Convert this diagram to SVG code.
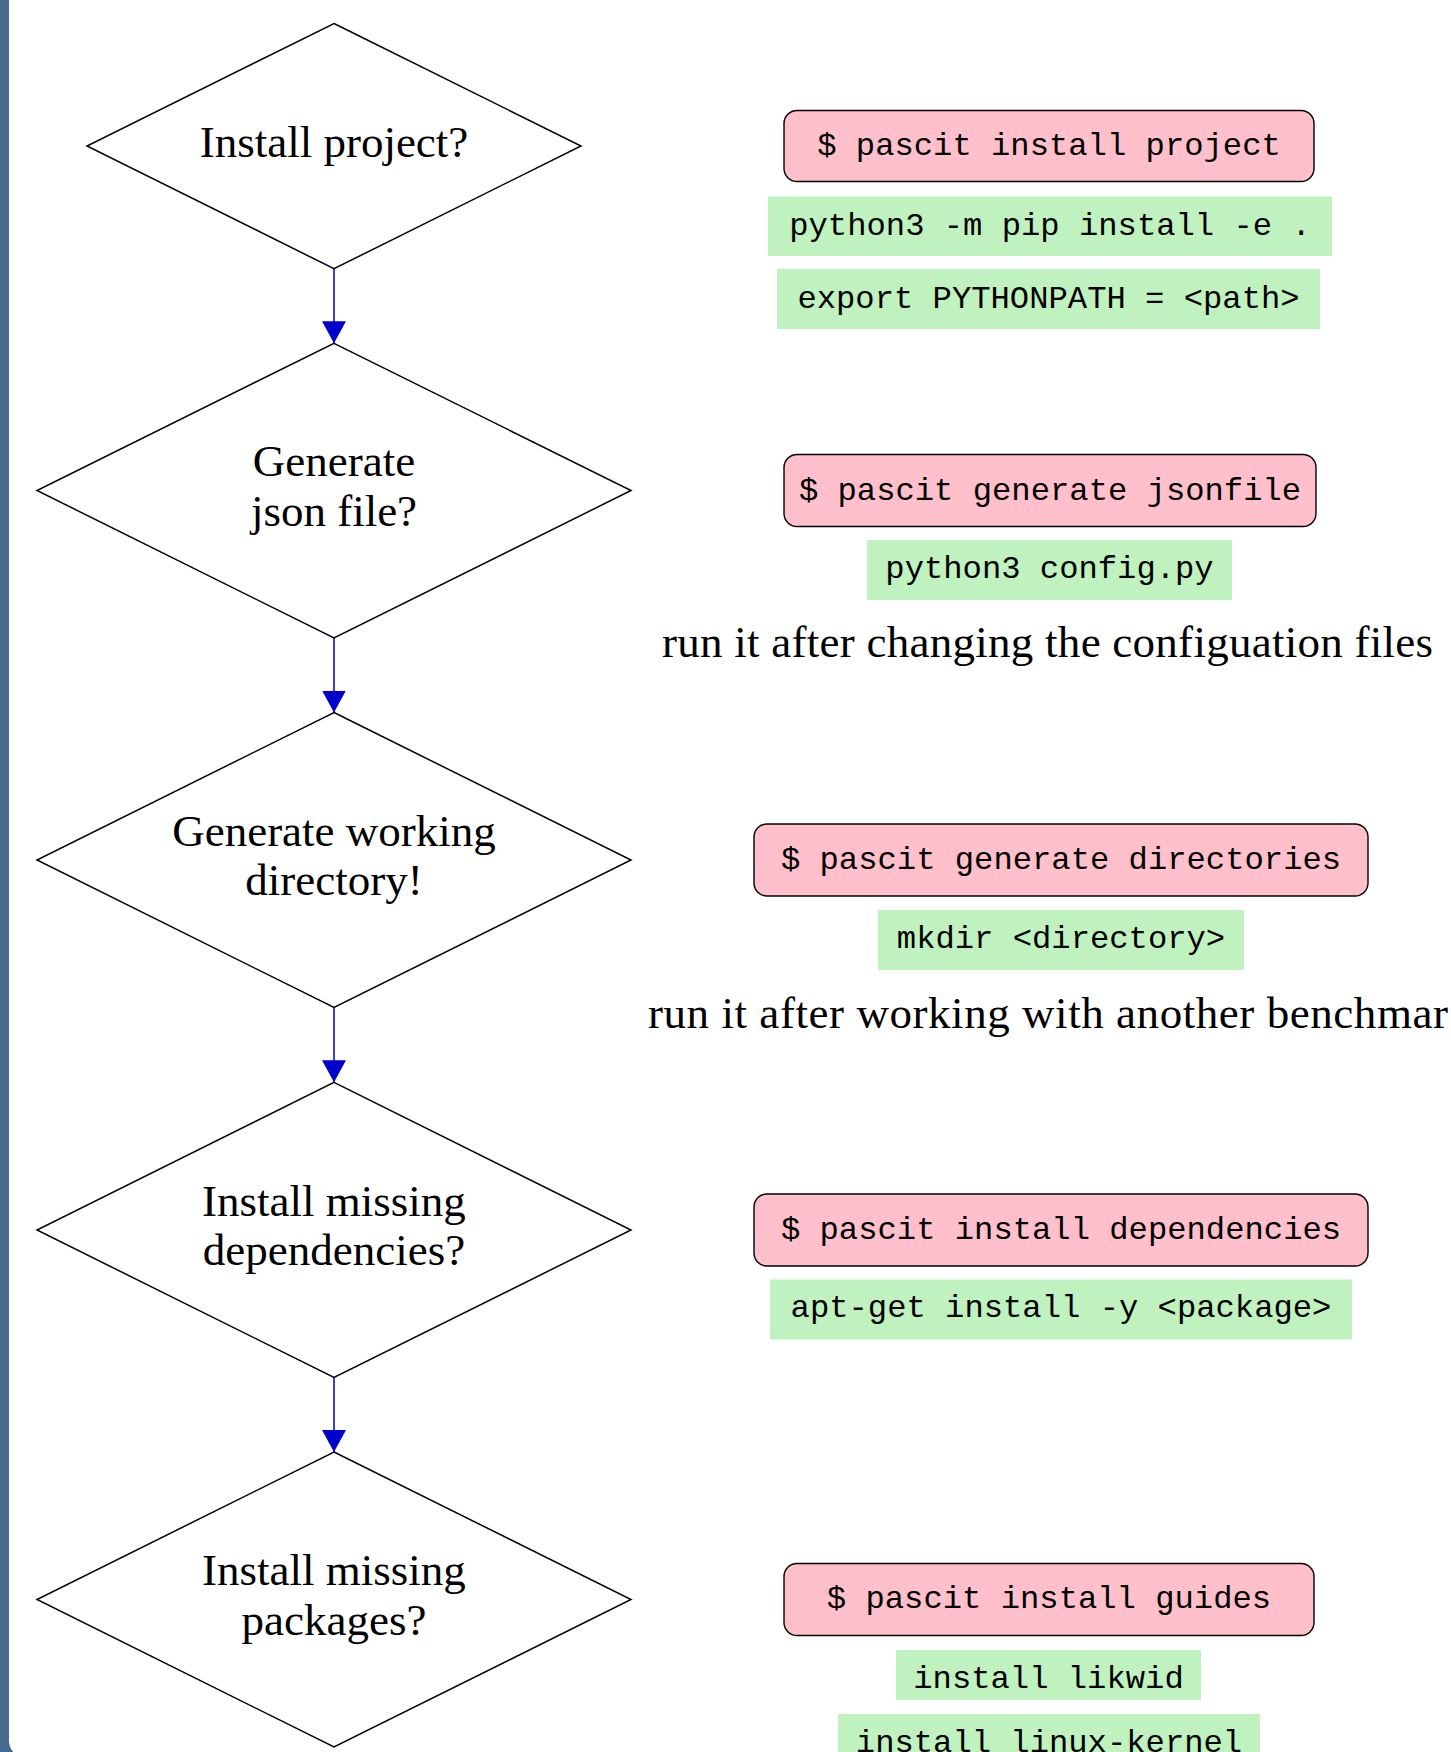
<svg xmlns="http://www.w3.org/2000/svg" width="1451" height="1752" viewBox="0 0 1451 1752">
  <defs>
    <style>
      .dia { fill: #ffffff; stroke: #000000; stroke-width: 1.5; stroke-linejoin: miter; }
      .dtxt { font-family: "Liberation Serif", "Times New Roman", serif; font-size: 45px; fill: #000000; text-anchor: middle; }
      .note { font-family: "Liberation Serif", "Times New Roman", serif; font-size: 45px; fill: #000000; }
      .cmd { fill: #ffc0cb; stroke: #000000; stroke-width: 1.4; }
      .code { fill: #c0f2c0; stroke: none; }
      .mono { font-family: "Liberation Mono", "Courier New", monospace; font-size: 32.2px; fill: #000000; text-anchor: middle; }
      .conn { stroke: #0000cc; stroke-width: 1.5; fill: none; }
    </style>
    <marker id="arrow" markerUnits="userSpaceOnUse" markerWidth="24" markerHeight="24" refX="22" refY="12" orient="auto" viewBox="0 0 24 24">
      <path d="M0,0 L22,12 L0,24 z" fill="#0000cc"/>
    </marker>
  </defs>

  <g id="frame">
    <rect x="0" y="0" width="1451" height="1752" fill="#466a8e"/>
    <rect x="9" y="-30" width="1470" height="1787" rx="16" ry="16" fill="#ffffff"/>
  </g>

  <g id="connectors">
    <line class="conn" x1="334" y1="268.7" x2="334" y2="343.3" marker-end="url(#arrow)"/>
    <line class="conn" x1="334" y1="638" x2="334" y2="712.5" marker-end="url(#arrow)"/>
    <line class="conn" x1="334" y1="1007.5" x2="334" y2="1082.3" marker-end="url(#arrow)"/>
    <line class="conn" x1="334" y1="1377.5" x2="334" y2="1452" marker-end="url(#arrow)"/>
  </g>

  <g id="q-install-project">
    <polygon class="dia" points="334,23.5 581,146 334,268.7 87,146"/>
    <text class="dtxt" x="334" y="157">Install project?</text>
  </g>
  <g id="q-generate-json">
    <polygon class="dia" points="334,343.3 631,490.5 334,638 37,490.5"/>
    <text class="dtxt" x="334" y="476">Generate</text>
    <text class="dtxt" x="334" y="525.5">json file?</text>
  </g>
  <g id="q-generate-dir">
    <polygon class="dia" points="334,712.5 631,860 334,1007.5 37,860"/>
    <text class="dtxt" x="334" y="845.5">Generate working</text>
    <text class="dtxt" x="334" y="895">directory!</text>
  </g>
  <g id="q-install-deps">
    <polygon class="dia" points="334,1082.3 631,1230 334,1377.5 37,1230"/>
    <text class="dtxt" x="334" y="1215.5">Install missing</text>
    <text class="dtxt" x="334" y="1265">dependencies?</text>
  </g>
  <g id="q-install-packages">
    <polygon class="dia" points="334,1452 631,1599.5 334,1747 37,1599.5"/>
    <text class="dtxt" x="334" y="1584.5">Install missing</text>
    <text class="dtxt" x="334" y="1634.5">packages?</text>
  </g>

  <g id="cmd-install-project">
    <rect class="cmd" x="784" y="110.5" width="530" height="71" rx="13" ry="13"/>
    <text class="mono" x="1049" y="155">$ pascit install project</text>
  </g>
  <g id="code-pip-install">
    <rect class="code" x="768" y="196.5" width="564" height="59.5"/>
    <text class="mono" x="1050" y="234.5">python3 -m pip install -e .</text>
  </g>
  <g id="code-export">
    <rect class="code" x="777" y="269" width="543" height="60"/>
    <text class="mono" x="1048.5" y="307.5">export PYTHONPATH = &lt;path&gt;</text>
  </g>

  <g id="cmd-generate-jsonfile">
    <rect class="cmd" x="784" y="454.5" width="532" height="72" rx="13" ry="13"/>
    <text class="mono" x="1050" y="499.5">$ pascit generate jsonfile</text>
  </g>
  <g id="code-config">
    <rect class="code" x="867" y="540" width="365" height="60"/>
    <text class="mono" x="1049.5" y="578">python3 config.py</text>
  </g>
  <g id="note-config">
    <text class="note" x="662" y="657" textLength="771">run it after changing the configuation files</text>
  </g>

  <g id="cmd-generate-directories">
    <rect class="cmd" x="754" y="824" width="614" height="72" rx="13" ry="13"/>
    <text class="mono" x="1061" y="869">$ pascit generate directories</text>
  </g>
  <g id="code-mkdir">
    <rect class="code" x="878" y="910" width="366" height="60"/>
    <text class="mono" x="1061" y="948">mkdir &lt;directory&gt;</text>
  </g>
  <g id="note-benchmark">
    <text class="note" x="648" y="1028" textLength="800">run it after working with another benchmar</text>
  </g>

  <g id="cmd-install-dependencies">
    <rect class="cmd" x="754" y="1194" width="614" height="72" rx="13" ry="13"/>
    <text class="mono" x="1061" y="1238.5">$ pascit install dependencies</text>
  </g>
  <g id="code-apt-get">
    <rect class="code" x="770" y="1279.5" width="582" height="60"/>
    <text class="mono" x="1061" y="1317">apt-get install -y &lt;package&gt;</text>
  </g>

  <g id="cmd-install-guides">
    <rect class="cmd" x="784" y="1563.5" width="530" height="72" rx="13" ry="13"/>
    <text class="mono" x="1049" y="1608">$ pascit install guides</text>
  </g>
  <g id="code-likwid">
    <rect class="code" x="896" y="1650" width="305" height="50"/>
    <text class="mono" x="1048.5" y="1688">install likwid</text>
  </g>
  <g id="code-linux-kernel">
    <rect class="code" x="838" y="1714" width="422" height="60"/>
    <text class="mono" x="1049" y="1752">install linux-kernel</text>
  </g>
</svg>
